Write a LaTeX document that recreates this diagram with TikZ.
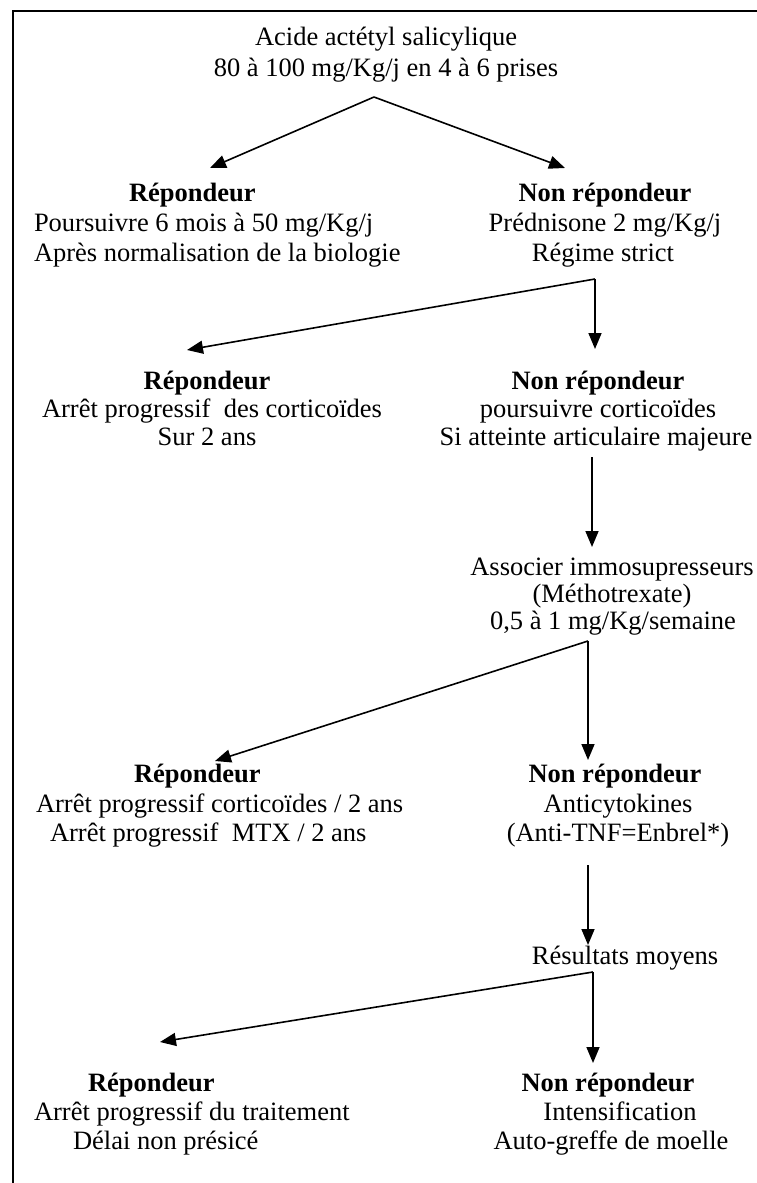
\documentclass[tikz,border=0pt]{standalone}
\usepackage{fontspec}
\setmainfont{Liberation Serif}
\usetikzlibrary{arrows.meta}
\begin{document}
\begin{tikzpicture}[x=1pt,y=-1pt,
  txt/.style={inner sep=0pt, outer sep=0pt, font=\fontsize{26.5}{30}\selectfont},
  hd/.style={inner sep=0pt, outer sep=0pt, font=\fontsize{26.5}{30}\selectfont\bfseries},
  conn/.style={line width=1.6pt, -{Triangle[length=16pt,width=13pt]}},
  framel/.style={line width=1.6pt}]
\useasboundingbox (0,0) rectangle (756,1183);
% frame
\coordinate (fr0) at (13,11);
\coordinate (fr1) at (757,11);
\coordinate (fr2) at (13,1184);
\draw[framel] (fr1) -- (fr0) -- (fr2);

% row 1
\node[txt, anchor=base] (n1a) at (386,45) {Acide actétyl salicylique};
\node[txt, anchor=base] (n1b) at (386,76) {80 à 100 mg/Kg/j en 4 à 6 prises};
\coordinate (ap1) at (374,97);
\coordinate (t2l) at (210,168);
\coordinate (t2r) at (565,168);
\draw[conn] (ap1) -- (t2l);
\draw[conn] (ap1) -- (t2r);

% row 2
\node[hd, anchor=base west] (r2h) at (129,201) {Répondeur};
\node[txt, anchor=base west] (r2a) at (34,231) {Poursuivre 6 mois à 50 mg/Kg/j};
\node[txt, anchor=base west] (r2b) at (34,261) {Après normalisation de la biologie};
\node[hd, anchor=base] (n2h) at (605,201) {Non répondeur};
\node[txt, anchor=base] (n2a) at (605,231) {Prédnisone 2 mg/Kg/j};
\node[txt, anchor=base] (n2b) at (603,261) {Régime strict};
\coordinate (ap2) at (595,279);
\coordinate (t3l) at (187,350);
\coordinate (t3r) at (595,349);
\draw[conn] (ap2) -- (t3l);
\draw[conn] (ap2) -- (t3r);

% row 3
\node[hd, anchor=base] (r3h) at (207,389) {Répondeur};
\node[txt, anchor=base] (r3a) at (212,417) {Arrêt progressif\ \ des corticoïdes};
\node[txt, anchor=base] (r3b) at (207,445) {Sur 2 ans};
\node[hd, anchor=base] (n3h) at (598,389) {Non répondeur};
\node[txt, anchor=base] (n3a) at (598,417) {poursuivre corticoïdes};
\node[txt, anchor=base] (n3b) at (596,445) {Si atteinte articulaire majeure};
\coordinate (s3) at (592,457);
\coordinate (t4) at (592,547);
\draw[conn] (s3) -- (t4);

% row 4
\node[txt, anchor=base] (n4a) at (612,575) {Associer immosupresseurs};
\node[txt, anchor=base] (n4b) at (612,602) {(Méthotrexate)};
\node[txt, anchor=base] (n4c) at (613,629) {0,5 à 1 mg/Kg/semaine};
\coordinate (ap4) at (588,641);
\coordinate (t5l) at (215,761);
\coordinate (t5r) at (588,760);
\draw[conn] (ap4) -- (t5l);
\draw[conn] (ap4) -- (t5r);

% row 5
\node[hd, anchor=base west] (r5h) at (134,782) {Répondeur};
\node[txt, anchor=base west] (r5a) at (36,812) {Arrêt progressif corticoïdes / 2 ans};
\node[txt, anchor=base west] (r5b) at (50,841) {Arrêt progressif\ \ MTX / 2 ans};
\node[hd, anchor=base] (n5h) at (615,782) {Non répondeur};
\node[txt, anchor=base] (n5a) at (618,812) {Anticytokines};
\node[txt, anchor=base] (n5b) at (618,841) {(Anti-TNF=Enbrel*)};
\coordinate (s5) at (588,865);
\coordinate (t6) at (588,945);
\draw[conn] (s5) -- (t6);

% row 6
\node[txt, anchor=base] (n6) at (625,964) {Résultats moyens};
\coordinate (ap6) at (593,972);
\coordinate (t7l) at (160,1042);
\coordinate (t7r) at (593,1063);
\draw[conn] (ap6) -- (t7l);
\draw[conn] (ap6) -- (t7r);

% row 7
\node[hd, anchor=base west] (r7h) at (88,1091) {Répondeur};
\node[txt, anchor=base west] (r7a) at (34,1120) {Arrêt progressif du traitement};
\node[txt, anchor=base west] (r7b) at (73,1149) {Délai non présicé};
\node[hd, anchor=base] (n7h) at (608,1091) {Non répondeur};
\node[txt, anchor=base] (n7a) at (620,1120) {Intensification};
\node[txt, anchor=base] (n7b) at (611,1149) {Auto-greffe de moelle};
\end{tikzpicture}
\end{document}
